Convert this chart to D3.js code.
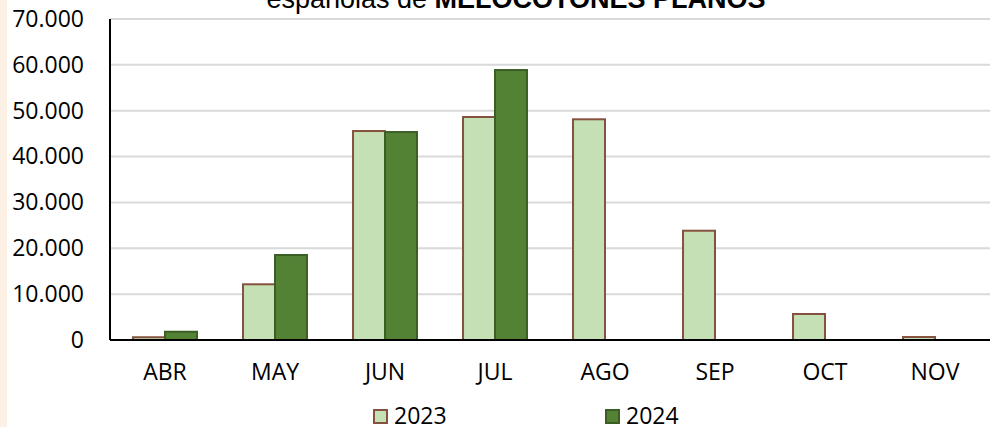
<!DOCTYPE html>
<html>
<head>
<meta charset="utf-8">
<script src="https://cdn.jsdelivr.net/npm/d3@7"></script>
<style>
  body { margin: 0; background: #fff; }
  svg { display: block; }
</style>
</head>
<body>
<div id="chart"></div>
<script>
// Data
const months = ["ABR", "MAY", "JUN", "JUL", "AGO", "SEP", "OCT", "NOV"]
const years = ["2023", "2024"]
const values2023 = [600, 12150, 45570, 48630, 48130, 23830, 5670, 650]
const values2024 = [1800, 18530, 45350, 58870, null, null, null, null]
const yTicks = [0, 10000, 20000, 30000, 40000, 50000, 60000, 70000]

const width = 990
const height = 427
const margin = { top: 19, right: 0, bottom: 87, left: 110 }

const fills = { "2023": "#c5e0b4", "2024": "#548235" }
const strokes = { "2023": "#85523f", "2024": "#3b5e25" }

const svg = d3
  .select("#chart")
  .append("svg")
  .attr("width", width)
  .attr("height", height)

// peach strip on the left edge
svg.append("rect")
  .attr("x", 0).attr("y", 0)
  .attr("width", 7).attr("height", height)
  .attr("fill", "#fcf0e5")

const x0 = d3.scaleBand()
  .domain(months)
  .range([margin.left, width - margin.right])
  .padding(0)

const x1 = d3.scaleBand()
  .domain(years)
  .range([0, x0.bandwidth()])
  .paddingInner(0)
  .paddingOuter(0.72)

const y = d3.scaleLinear()
  .domain([0, 70000])
  .range([height - margin.bottom, margin.top])

const locale = d3.formatLocale({ decimal: ",", thousands: ".", grouping: [3], currency: ["", " €"] })
const fmt = locale.format(",d")

// gridlines
svg.append("g")
  .selectAll("line")
  .data(yTicks.filter((d) => d > 0))
  .join("line")
  .attr("x1", margin.left)
  .attr("x2", width)
  .attr("y1", (d) => y(d))
  .attr("y2", (d) => y(d))
  .attr("stroke", "#d9d9d9")
  .attr("stroke-width", 2)

// y axis labels
const yAxis = svg.append("g")
  .attr("transform", `translate(${margin.left},0)`)
  .call(d3.axisLeft(y).tickValues(yTicks).tickFormat(fmt).tickSize(0).tickPadding(26))
yAxis.select(".domain").remove()
yAxis.selectAll("text")
  .attr("font-family", "'Open Sans', sans-serif")
  .attr("font-size", 23)
  .attr("fill", "#000")

// bars
const rows = months.map((m, i) => ({ month: m, "2023": values2023[i], "2024": values2024[i] }))

const groups = svg.append("g")
  .selectAll("g")
  .data(rows)
  .join("g")
  .attr("transform", (d) => `translate(${x0(d.month)},0)`)

groups.selectAll("rect")
  .data((d) => years.filter((k) => d[k] != null).map((k) => ({ key: k, value: d[k] })))
  .join("rect")
  .attr("x", (d) => x1(d.key))
  .attr("y", (d) => y(d.value))
  .attr("width", x1.bandwidth())
  .attr("height", (d) => y(0) - y(d.value))
  .attr("fill", (d) => fills[d.key])
  .attr("stroke", (d) => strokes[d.key])
  .attr("stroke-width", 2)

// axes lines
svg.append("line")
  .attr("x1", margin.left).attr("x2", width)
  .attr("y1", y(0)).attr("y2", y(0))
  .attr("stroke", "#000").attr("stroke-width", 2)

svg.append("line")
  .attr("x1", margin.left).attr("x2", margin.left)
  .attr("y1", y(70000)).attr("y2", y(0))
  .attr("stroke", "#000").attr("stroke-width", 2)

// month labels
const xAxis = svg.append("g")
  .attr("transform", `translate(0,${y(0)})`)
  .call(d3.axisBottom(x0).tickSize(0).tickPadding(24))
xAxis.select(".domain").remove()
xAxis.selectAll("text")
  .attr("font-family", "'Open Sans', sans-serif")
  .attr("font-size", 23)
  .attr("fill", "#000")

// title (only the lower line is inside the picture)
const title = svg.append("text")
  .attr("x", 516)
  .attr("y", 8)
  .attr("text-anchor", "middle")
  .attr("font-family", "'Liberation Sans', Arial, sans-serif")
  .attr("font-size", 27)
  .attr("fill", "#000")
title.append("tspan").text("españolas de ")
title.append("tspan").attr("font-weight", "bold").text("MELOCOTONES PLANOS")

// legend
const legendX = [373, 605]
const legend = svg.append("g")
  .selectAll("g")
  .data(years)
  .join("g")
  .attr("transform", (d, i) => `translate(${legendX[i]},409)`)

legend.append("rect")
  .attr("x", 1).attr("y", 1)
  .attr("width", 13).attr("height", 13)
  .attr("fill", (d) => fills[d])
  .attr("stroke", (d) => strokes[d])
  .attr("stroke-width", 2)

legend.append("text")
  .attr("x", 21)
  .attr("y", 15)
  .attr("font-family", "'Open Sans', sans-serif")
  .attr("font-size", 23)
  .attr("fill", "#000")
  .text((d) => d)
</script>
</body>
</html>
